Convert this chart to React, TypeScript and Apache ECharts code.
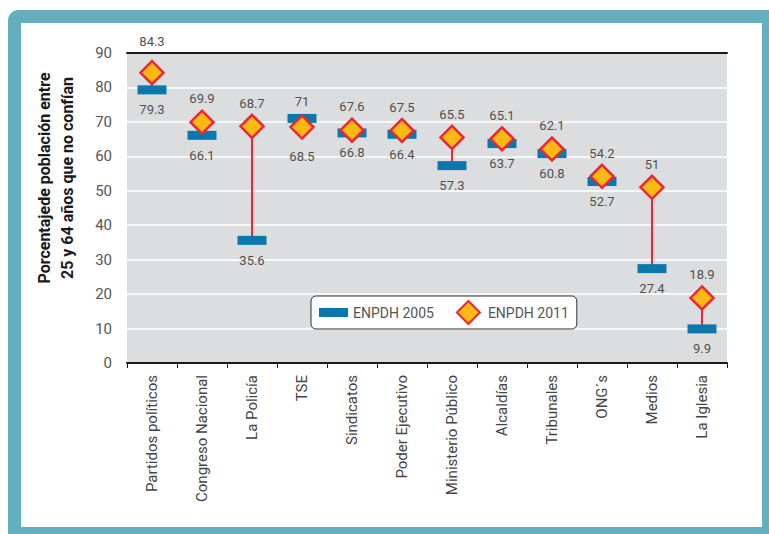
import React, { useEffect, useRef } from "react";
import * as echarts from "echarts";

const categories = [
  "Partidos políticos",
  "Congreso Nacional",
  "La Policía",
  "TSE",
  "Sindicatos",
  "Poder Ejecutivo",
  "Ministerio Público",
  "Alcaldías",
  "Tribunales",
  "ONG´s",
  "Medios",
  "La Iglesia",
];
const values2005 = [79.3, 66.1, 35.6, 71, 66.8, 66.4, 57.3, 63.7, 60.8, 52.7, 27.4, 9.9];
const values2011 = [84.3, 69.9, 68.7, 68.5, 67.6, 67.5, 65.5, 65.1, 62.1, 54.2, 51, 18.9];
const yTicks = { min: 0, max: 90, interval: 10 };
const seriesNames = ["ENPDH 2005", "ENPDH 2011"];
const yAxisTitle = "Porcentajede población entre\n25 y 64 años que no confían";

const FONT = "Roboto";
const BLUE = "#0a78aa";
const RED = "#e8283a";
const GOLD = "#fdb913";

export default function App() {
  const ref = useRef<HTMLDivElement>(null);
  useEffect(() => {
    if (!ref.current) return;
    const chart = echarts.init(ref.current, undefined, { renderer: "svg" });
    const labelStyle = { color: "#505050", fontSize: 13, fontFamily: FONT };
    const option: any = {
      animation: false,
      textStyle: { fontFamily: FONT },
      grid: {
        left: 127,
        right: 42,
        top: 53,
        bottom: 171,
        show: true,
        borderWidth: 0,
        backgroundColor: "#dcdddf",
      },
      graphic: [
        {
          type: "text",
          x: 56,
          y: 178,
          rotation: Math.PI / 2,
          style: {
            text: yAxisTitle,
            fill: "#1a1a1a",
            font: `bold 16px ${FONT}`,
            align: "center",
            verticalAlign: "middle",
            lineHeight: 23,
          },
        },
      ],
      legend: {
        left: 311,
        top: 296,
        orient: "horizontal",
        backgroundColor: "#ffffff",
        borderColor: "#333333",
        borderWidth: 1,
        borderRadius: 5,
        padding: [4, 8, 4, 8],
        itemWidth: 29,
        itemHeight: 23,
        itemGap: 22,
        symbolKeepAspect: true,
        textStyle: { color: "#555555", fontSize: 14, fontFamily: FONT },
        data: [
          { name: seriesNames[0], icon: "path://M0,0L29,0L29,9L0,9Z" },
          { name: seriesNames[1], icon: "path://M11.5,0L23,11.5L11.5,23L0,11.5Z" },
        ],
      },
      xAxis: [
        {
          type: "category",
          data: categories,
          position: "bottom",
          boundaryGap: true,
          axisLine: { lineStyle: { color: "#1a1a1a", width: 2 } },
          axisTick: { show: true, length: 5, lineStyle: { color: "#1a1a1a", width: 1 } },
          axisLabel: {
            rotate: 90,
            margin: 12,
            color: "#444444",
            fontSize: 15,
            fontFamily: FONT,
            interval: 0,
          },
          splitLine: { show: false },
        },
        {
          type: "category",
          data: categories,
          position: "top",
          axisLine: { lineStyle: { color: "#1a1a1a", width: 2 } },
          axisTick: { show: false },
          axisLabel: { show: false },
          splitLine: { show: false },
        },
      ],
      yAxis: {
        type: "value",
        min: yTicks.min,
        max: yTicks.max,
        interval: yTicks.interval,
        axisLine: { show: false },
        axisTick: { show: false },
        axisLabel: { color: "#555555", fontSize: 15, fontFamily: FONT, margin: 15 },
        splitLine: { lineStyle: { color: "#ffffff", width: 1.5 } },
      },
      series: [
        {
          type: "custom",
          name: "connector",
          z: 1,
          data: values2005.map((v, i) => [i, v, values2011[i]]),
          encode: { x: 0, y: [1, 2] },
          renderItem: (params: any, api: any) => {
            const p1 = api.coord([api.value(0), api.value(1)]);
            const p2 = api.coord([api.value(0), api.value(2)]);
            return {
              type: "line",
              shape: { x1: p1[0], y1: p1[1], x2: p2[0], y2: p2[1] },
              style: { stroke: RED, lineWidth: 2 },
            };
          },
        },
        {
          type: "scatter",
          name: seriesNames[0],
          z: 2,
          symbol: "rect",
          symbolSize: [29, 9],
          itemStyle: { color: BLUE, opacity: 1 },
          data: values2005.map((v, i) => {
            const upper = v > values2011[i];
            return {
              value: v,
              label: {
                show: true,
                position: upper ? "top" : "bottom",
                distance: upper ? 6 : 9,
                ...labelStyle,
              },
            };
          }),
        },
        {
          type: "scatter",
          name: seriesNames[1],
          z: 3,
          symbol: "diamond",
          symbolSize: 23,
          itemStyle: { color: GOLD, borderColor: RED, borderWidth: 2.5, opacity: 1 },
          data: values2011.map((v, i) => {
            const upper = v >= values2005[i];
            // labels near the top edge are lifted clear of the plot border
            const nearTop = v > yTicks.max - 10;
            return {
              value: v,
              label: {
                show: true,
                position: upper ? "top" : "bottom",
                distance: upper ? (nearTop ? 12 : 4) : 10,
                ...labelStyle,
              },
            };
          }),
        },
      ],
    };
    chart.setOption(option);
    return () => chart.dispose();
  }, []);

  return (
    <div>
      <div
        style={{
          position: "absolute",
          left: 8,
          top: 10,
          width: 761,
          height: 524,
          boxSizing: "border-box",
          background: "#ffffff",
          borderStyle: "solid",
          borderColor: "#63afbd",
          borderWidth: "13px 7px 7px 13px",
          borderRadius: "10px 0 0 0",
        }}
      />
      <div
        ref={ref}
        style={{ position: "absolute", left: 0, top: 0, width: 769, height: 534 }}
      />
    </div>
  );
}
